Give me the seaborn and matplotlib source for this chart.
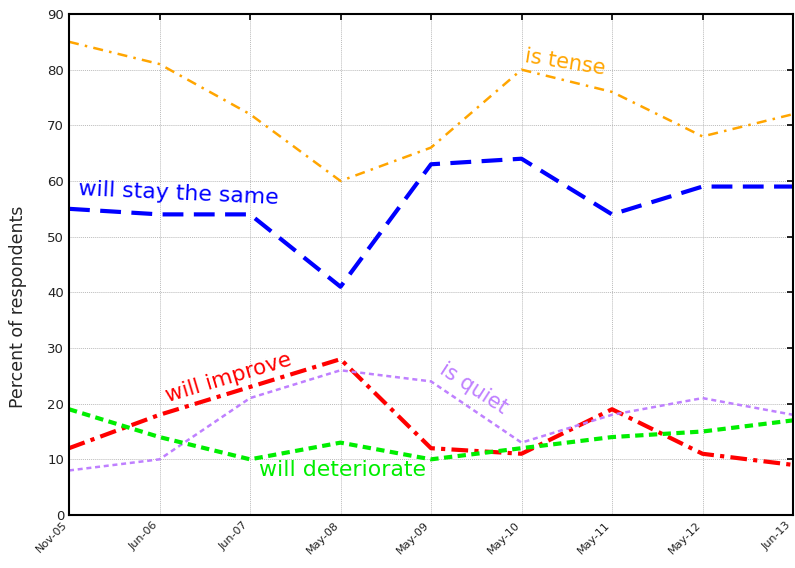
import matplotlib
matplotlib.use("Agg")
import matplotlib.pyplot as plt
import seaborn as sns
import pandas as pd

dates = ["Nov-05", "Jun-06", "Jun-07", "May-08", "May-09", "May-10", "May-11", "May-12", "Jun-13"]
is_tense = [85, 81, 72, 60, 66, 80, 76, 68, 72]
will_stay_same = [55, 54, 54, 41, 63, 64, 54, 59, 59]
will_improve = [12, 18, 23, 28, 12, 11, 19, 11, 9]
is_quiet = [8, 10, 21, 26, 24, 13, 18, 21, 18]
will_deteriorate = [19, 14, 10, 13, 10, 12, 14, 15, 17]
y_ticks = [0, 10, 20, 30, 40, 50, 60, 70, 80, 90]

sns.set_style("white")
plt.rcParams['font.family'] = ['DejaVu Sans']

fig = plt.figure(figsize=(7.95, 5.68), dpi=100)
ax = fig.add_axes([0.0868, 0.0933, 0.9107, 0.8821])

series = [
    ("is tense", is_tense, "#FFA500", 1.8, (0, (4, 2.5, 1, 2.5))),
    ("will stay the same", will_stay_same, "#0000FF", 3.0, (0, (5, 2.5))),
    ("will improve", will_improve, "#FF0000", 3.0, (0, (4, 1.5, 1, 1.5))),
    ("is quiet", is_quiet, "#BF80FF", 1.8, (0, (2, 1.5))),
    ("will deteriorate", will_deteriorate, "#00EE00", 3.0, (0, (2, 1.3))),
]

for name, vals, color, lw, ls in series:
    df = pd.DataFrame({"date": dates, "value": vals})
    sns.lineplot(data=df, x="date", y="value", ax=ax, color=color, linewidth=lw,
                 linestyle=ls, sort=False)

ax.set_xlim(0, len(dates) - 1)
ax.set_ylim(0, 90)
ax.set_yticks(y_ticks)
ax.set_xticks(range(len(dates)))
ax.set_xticklabels(dates, rotation=45, ha="right", fontsize=8, color="#222222")
ax.tick_params(axis="y", labelsize=9.5, labelcolor="#222222")
ax.tick_params(direction="in", top=True, right=True, length=4, width=1.2, color="black")
ax.set_xlabel("")
ax.set_ylabel("Percent of respondents", fontsize=12.5)
ax.yaxis.set_label_coords(-0.058, 0.415)
ax.grid(True, color="#bbbbbb", linestyle=(0, (1, 1)), linewidth=0.7)
for sp in ax.spines.values():
    sp.set_color("black")
    sp.set_linewidth(1.5)

ax.text(5.03, 81.4, "is tense", color="#FFA500", fontsize=15, rotation=-9,
        ha="left", va="baseline", rotation_mode="anchor")
ax.text(0.10, 57.5, "will stay the same", color="#0000FF", fontsize=15.8, rotation=-2.6,
        ha="left", va="baseline", rotation_mode="anchor")
ax.text(1.09, 20.3, "will improve", color="#FF0000", fontsize=15.5, rotation=16.6,
        ha="left", va="baseline", rotation_mode="anchor")
ax.text(4.05, 17.5, "is quiet", color="#BF80FF", fontsize=15, rotation=-33, ha="left", va="bottom")
ax.text(2.1, 6.2, "will deteriorate", color="#00EE00", fontsize=15.8, ha="left", va="bottom")

fig.savefig("out.png", dpi=100)
